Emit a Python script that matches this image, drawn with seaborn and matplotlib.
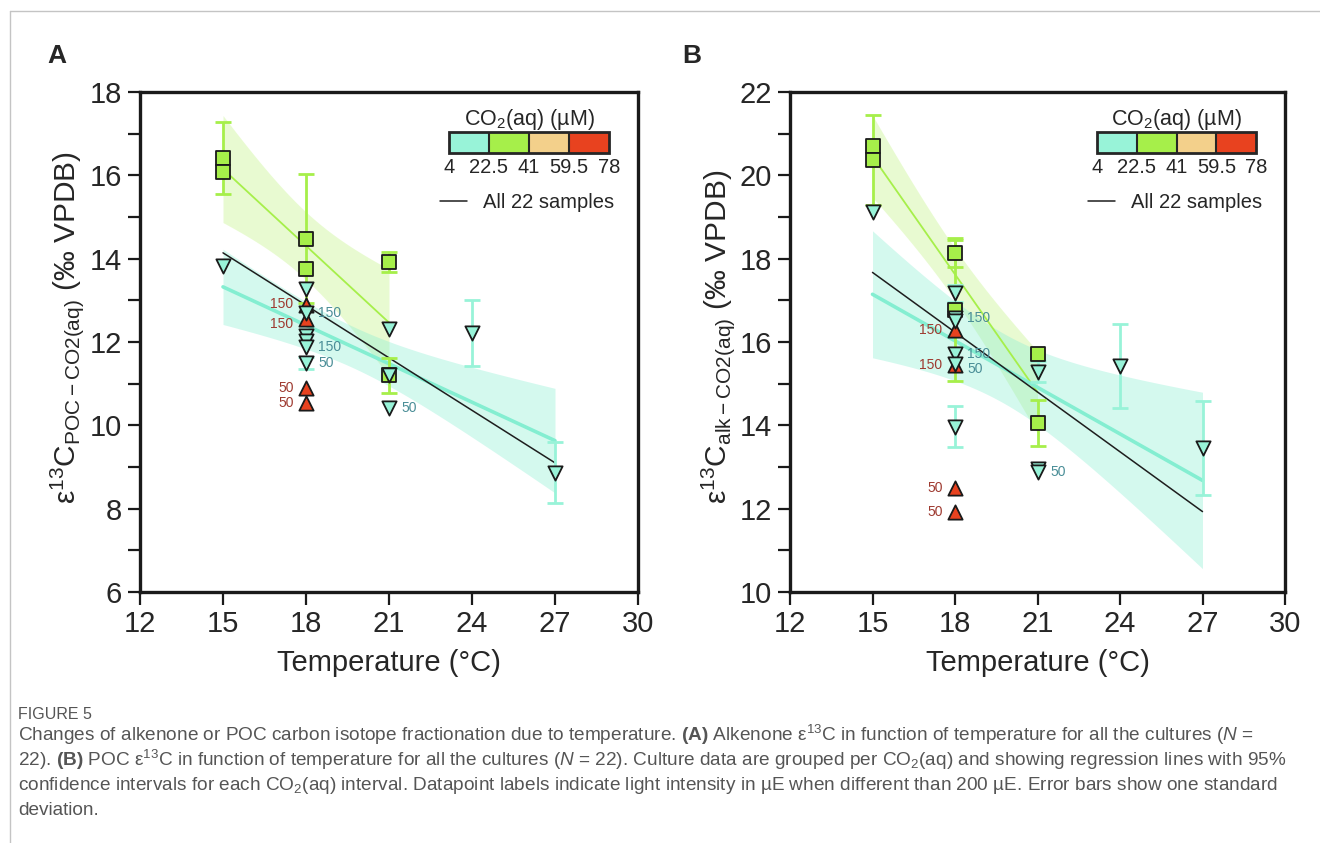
import numpy as np
import pandas as pd
import matplotlib
matplotlib.use("Agg")
import matplotlib.pyplot as plt
import seaborn as sns
from matplotlib.colors import ListedColormap, BoundaryNorm
from matplotlib.cm import ScalarMappable
from matplotlib.lines import Line2D
from matplotlib.ticker import MultipleLocator

# ---- data ----------------------------------------------------------------
# Panel A: eps13C POC-CO2(aq)
a_green_T = [15, 15, 18, 18, 21, 21]
a_green_v = [16.42, 16.07, 14.48, 13.76, 13.92, 11.20]
a_green_sd = [0.86, 0, 1.55, 0, 0.23, 0.42]
a_green_light = [200, 200, 200, 200, 200, 200]

a_cyan_T = [15, 18, 18, 18, 18, 18, 18, 21, 21, 21, 24, 27]
a_cyan_v = [13.83, 13.27, 12.70, 12.14, 12.02, 11.88, 11.50, 12.31, 11.20, 10.42, 12.22, 8.86]
a_cyan_sd = [0, 0, 0, 0, 0, 0, 0.15, 0, 0, 0, 0.80, 0.73]
a_cyan_light = [200, 200, 150, 200, 200, 150, 50, 200, 200, 50, 200, 200]

a_red_T = [18, 18, 18, 18]
a_red_v = [12.90, 12.55, 10.90, 10.54]
a_red_sd = [0, 0, 0, 0]
a_red_light = [150, 150, 50, 50]

# fit through all 22 samples (end points)
a_all_T = [15, 27]
a_all_v = [14.14, 9.10]

# Panel B: eps13C alk-CO2(aq)
b_green_T = [15, 15, 18, 18, 21, 21]
b_green_v = [20.70, 20.38, 18.13, 16.78, 15.71, 14.05]
b_green_sd = [0, 1.08, 0.33, 1.72, 0, 0.55]
b_green_light = [200, 200, 200, 200, 200, 200]

b_cyan_T = [15, 18, 18, 18, 18, 18, 18, 21, 21, 21, 24, 27]
b_cyan_v = [19.12, 17.17, 16.58, 16.50, 15.72, 15.47, 13.97, 15.29, 12.95, 12.87, 15.42, 13.46]
b_cyan_sd = [0, 0.20, 0, 0, 0, 0, 0.49, 0.25, 0, 0, 1.00, 1.12]
b_cyan_light = [200, 200, 150, 200, 150, 50, 200, 200, 200, 50, 200, 200]

b_red_T = [18, 18, 18, 18]
b_red_v = [16.30, 15.45, 12.50, 11.93]
b_red_sd = [0, 0, 0, 0]
b_red_light = [150, 150, 50, 50]

b_all_T = [15, 27]
b_all_v = [17.67, 11.93]

co2_bounds = [4, 22.5, 41, 59.5, 78]
co2_ticklabels = ["4", "22.5", "41", "59.5", "78"]
co2_colors = ["#98f3d8", "#a6ef4a", "#f3d08b", "#e8421f"]

# ---- style ---------------------------------------------------------------
sns.set_theme(style="ticks")
plt.rcParams["font.family"] = ["Liberation Sans", "DejaVu Sans"]
plt.rcParams["mathtext.fontset"] = "custom"
plt.rcParams["mathtext.rm"] = "Liberation Sans"
plt.rcParams["mathtext.it"] = "Liberation Sans:italic"
plt.rcParams["mathtext.bf"] = "Liberation Sans:bold"

cyan_line = "#84eed1"
green_line = "#a6ef4a"
red_txt = "#9e3a30"
cyan_txt = "#4a8e97"

fig = plt.figure(figsize=(13.2, 8.43), dpi=100)
axA = fig.add_axes([140 / 1320, 1 - 592 / 843, 498 / 1320, 500 / 843])
axB = fig.add_axes([790 / 1320, 1 - 592 / 843, 495 / 1320, 500 / 843])


def frame(T, v, sd, light):
    return pd.DataFrame({"T": T, "v": v, "sd": sd, "light": light})


def fit_with_band(ax, df, col, lw, alpha):
    # least squares line (seaborn) plus a normal-approximation 95% band
    sns.regplot(data=df, x="T", y="v", scatter=False, ci=None, color=col,
                line_kws={"lw": lw, "zorder": 2}, ax=ax)
    x = df["T"].to_numpy(float)
    y = df["v"].to_numpy(float)
    b, a = np.polyfit(x, y, 1)
    grid = np.linspace(x.min(), x.max(), 100)
    s = np.sqrt(np.sum((y - (a + b * x)) ** 2) / (len(x) - 2))
    se = s * np.sqrt(1 / len(x) + (grid - x.mean()) ** 2 / np.sum((x - x.mean()) ** 2))
    fit = a + b * grid
    ax.fill_between(grid, fit - 1.96 * se, fit + 1.96 * se, color=col,
                    alpha=alpha, lw=0, zorder=1)


def light_labels(ax, df, side, color):
    # label points whose light intensity differs from 200 uE
    lab = df[df["light"] != 200].sort_values(["T", "v"], ascending=[True, False])
    prev = None
    for _, r in lab.iterrows():
        dy = 0
        if prev is not None and prev[0] == r["T"] and prev[1] - r["v"] < 0.35:
            dy = -3.5   # nudge apart labels of almost coincident points
        ax.annotate(f"{int(r['light'])}", (r["T"], r["v"]), xytext=(9 * side, dy),
                    textcoords="offset points", ha="left" if side > 0 else "right",
                    va="center", fontsize=10, color=color, zorder=7)
        prev = (r["T"], r["v"])


def draw_panel(ax, green, cyan, red, all_T, all_v, ylim, ylabel):
    fit_with_band(ax, green, green_line, 1.3, 0.25)
    fit_with_band(ax, cyan, cyan_line, 2.6, 0.35)
    sns.lineplot(x=all_T, y=all_v, color="#1e1e1e", lw=1.1, ax=ax, zorder=2.5)
    all_line = ax.get_lines()[-1]

    for df, col, mk, z in [(green, "#a6ef4a", "s", 4), (red, "#e8421f", "^", 5),
                           (cyan, "#98f3d8", "v", 6)]:
        e = df[df["sd"] > 0]
        ax.errorbar(e["T"], e["v"], yerr=e["sd"], fmt="none", ecolor=col,
                    elinewidth=2, capsize=5.5, capthick=2, zorder=3)
        sns.scatterplot(data=df, x="T", y="v", marker=mk, s=105, color=col,
                        edgecolor="#1a1a1a", linewidth=1.3, zorder=z, ax=ax)

    light_labels(ax, red, -1, red_txt)
    light_labels(ax, cyan, 1, cyan_txt)

    ax.set_xlim(12, 30)
    ax.set_ylim(*ylim)
    ax.xaxis.set_major_locator(MultipleLocator(3))
    ax.yaxis.set_major_locator(MultipleLocator(2))
    ax.yaxis.set_minor_locator(MultipleLocator(1))
    ax.tick_params(which="both", direction="out", length=9, width=1.6,
                   labelsize=21, color="k", pad=4)
    for s in ax.spines.values():
        s.set_linewidth(2.4)
        s.set_color("k")
    ax.set_xlabel("Temperature (°C)", fontsize=21, labelpad=8)
    ax.set_ylabel(ylabel, fontsize=21.5, ha="left")
    ax.yaxis.set_label_coords(-0.108, 0.176)

    # CO2 colour key
    cax = ax.inset_axes([0.62, 0.877, 0.322, 0.042])
    cmap = ListedColormap(co2_colors)
    norm = BoundaryNorm(co2_bounds, cmap.N)
    cb = fig.colorbar(ScalarMappable(norm=norm, cmap=cmap), cax=cax,
                      orientation="horizontal", ticks=co2_bounds, drawedges=True)
    cb.outline.set_linewidth(2)
    cb.dividers.set_linewidth(1.5)
    cb.ax.set_xticklabels(co2_ticklabels)
    cb.ax.tick_params(length=0, labelsize=14.5, pad=3)
    cb.ax.set_title("CO$_2$(aq) (µM)", fontsize=15.5, pad=5)

    ax.legend([all_line], ["All 22 samples"], loc="center left",
              bbox_to_anchor=(0.602, 0.778), frameon=False, fontsize=14.5,
              handlelength=1.35, handletextpad=0.8, borderpad=0, borderaxespad=0)


draw_panel(axA,
           frame(a_green_T, a_green_v, a_green_sd, a_green_light),
           frame(a_cyan_T, a_cyan_v, a_cyan_sd, a_cyan_light),
           frame(a_red_T, a_red_v, a_red_sd, a_red_light),
           a_all_T, a_all_v, (6, 18),
           r"ε$^{13}$C$_{\mathregular{POC-CO2(aq)}}$ (‰ VPDB)")
draw_panel(axB,
           frame(b_green_T, b_green_v, b_green_sd, b_green_light),
           frame(b_cyan_T, b_cyan_v, b_cyan_sd, b_cyan_light),
           frame(b_red_T, b_red_v, b_red_sd, b_red_light),
           b_all_T, b_all_v, (10, 22),
           r"ε$^{13}$C$_{\mathregular{alk-CO2(aq)}}$ (‰ VPDB)")

fig.text(57 / 1320, 1 - 56 / 843, "A", fontsize=19, fontweight="bold", ha="center", va="center")
fig.text(692 / 1320, 1 - 56 / 843, "B", fontsize=19, fontweight="bold", ha="center", va="center")

# page frame
fig.add_artist(Line2D([10 / 1320, 1], [1 - 11 / 843, 1 - 11 / 843], color="#c4c4c4", lw=1))
fig.add_artist(Line2D([10 / 1320, 10 / 1320], [0, 1 - 11 / 843], color="#c4c4c4", lw=1))

# caption
cap_col = "#555555"
cap_lines = [
    r"Changes of alkenone or POC carbon isotope fractionation due to temperature. $\mathbf{(A)}$ Alkenone ε$^{13}$C in function of temperature for all the cultures ($\mathit{N}$ =",
    r"22). $\mathbf{(B)}$ POC ε$^{13}$C in function of temperature for all the cultures ($\mathit{N}$ = 22). Culture data are grouped per CO$_2$(aq) and showing regression lines with 95%",
    r"confidence intervals for each CO$_2$(aq) interval. Datapoint labels indicate light intensity in µE when different than 200 µE. Error bars show one standard",
    "deviation.",
]
fig.text(18 / 1320, 1 - 719 / 843, "FIGURE 5", fontsize=11.5, color=cap_col, va="baseline")
for i, line in enumerate(cap_lines):
    fig.text(18 / 1320, 1 - (741 + 24.6 * i) / 843, line, fontsize=13.7,
             color=cap_col, va="baseline")

fig.savefig("out.png", dpi=100)
